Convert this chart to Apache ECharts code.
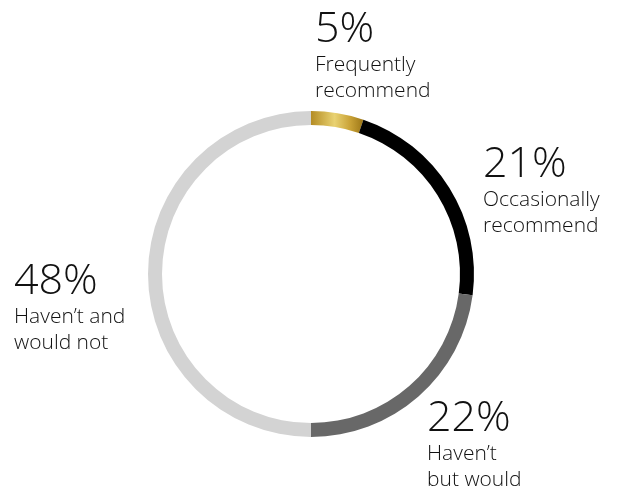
<!DOCTYPE html>
<html>
<head>
<meta charset="utf-8">
<script src="https://cdn.jsdelivr.net/npm/echarts@6/dist/echarts.min.js"></script>
<style>
  html, body { margin: 0; padding: 0; background: #ffffff; }
  #chart { width: 622px; height: 491px; }
</style>
</head>
<body>
<div id="chart"></div>
<script>
// Share of respondents by recommendation behaviour
const categories = [
  'Frequently\nrecommend',
  'Occasionally\nrecommend',
  'Haven\u2019t\nbut would',
  'Haven\u2019t and\nwould not'
];
const shares = [5, 21, 22, 48];

const gold = new echarts.graphic.LinearGradient(0, 0, 1, 0, [
  { offset: 0, color: '#b48c24' },
  { offset: 0.45, color: '#e9d272' },
  { offset: 0.75, color: '#c9a236' },
  { offset: 1, color: '#9c7616' }
]);
const sliceColors = [gold, '#000000', '#686868', '#d3d3d3'];

// Top-left corner of each label block, in slice order
const labelSpots = [
  [315, 8],
  [483, 143],
  [427, 397],
  [14, 260]
];

const chart = echarts.init(document.getElementById('chart'), null, { renderer: 'canvas' });

chart.setOption({
  animation: false,
  backgroundColor: '#ffffff',
  series: [{
    type: 'pie',
    silent: true,
    center: [311, 274],
    radius: [149, 163],
    startAngle: 90,
    clockwise: true,
    avoidLabelOverlap: false,
    itemStyle: { borderWidth: 0 },
    labelLine: { show: false },
    label: {
      show: true,
      position: 'outside',
      formatter: p => '{p|' + p.value + '%}\n{t|' + p.name.split('\n').join('}\n{t|') + '}',
      rich: {
        p: { fontFamily: 'Open Sans', fontWeight: 300, fontSize: 43, lineHeight: 44, color: '#111111' },
        t: { fontFamily: 'Open Sans', fontWeight: 300, fontSize: 21, lineHeight: 26, color: '#111111' }
      }
    },
    labelLayout: params => ({
      x: labelSpots[params.dataIndex][0],
      y: labelSpots[params.dataIndex][1],
      align: 'left',
      verticalAlign: 'top',
      hideOverlap: false
    }),
    data: shares.map((v, i) => ({
      value: v,
      name: categories[i],
      itemStyle: { color: sliceColors[i] }
    }))
  }]
});
</script>
</body>
</html>
